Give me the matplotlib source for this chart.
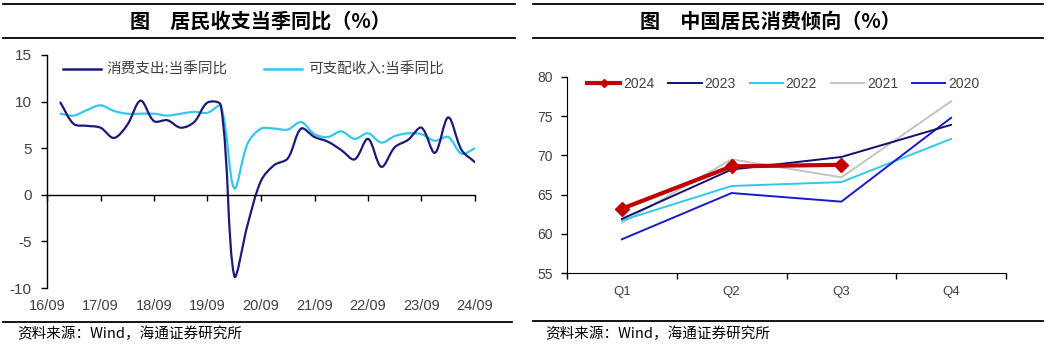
import matplotlib
matplotlib.use("Agg")
import matplotlib.pyplot as plt
from matplotlib.path import Path
from matplotlib.patches import PathPatch
from matplotlib.lines import Line2D
import numpy as np

plt.rcParams['font.family'] = ['Liberation Sans', 'Noto Sans CJK SC', 'DejaVu Sans']
plt.rcParams['axes.unicode_minus'] = False
CJK = ['Noto Sans CJK SC', 'DejaVu Sans']

# ---- left chart data: quarterly yoy, 2016Q4 .. 2024Q3 ----
year_ticks = ["16/09", "17/09", "18/09", "19/09", "20/09", "21/09", "22/09", "23/09", "24/09"]
consume_yoy = [9.9, 7.6, 7.4, 7.2, 6.1, 7.5, 10.1, 7.9, 8.0, 7.2, 7.8, 9.9, 9.6,
               -8.7, -3.2, 1.5, 3.2, 3.9, 7.1, 6.2, 5.7, 4.8, 3.8, 6.0, 3.0,
               5.1, 5.9, 7.2, 4.5, 8.3, 4.8, 3.5]
income_yoy = [8.7, 8.5, 9.1, 9.6, 9.0, 8.7, 8.7, 8.7, 8.5, 8.7, 8.9, 8.8, 9.5,
              0.7, 5.5, 7.1, 7.1, 7.0, 7.8, 6.5, 6.2, 6.8, 6.0, 6.6, 5.6,
              6.3, 6.6, 6.5, 5.8, 6.2, 4.4, 5.0]

# ---- right chart data: propensity to consume ----
quarters = ["Q1", "Q2", "Q3", "Q4"]
y2024 = [63.2, 68.6, 68.8]
y2023 = [61.9, 68.2, 69.8, 73.9]
y2022 = [61.7, 66.1, 66.6, 72.1]
y2021 = [61.4, 69.5, 67.2, 76.9]
y2020 = [59.3, 65.2, 64.1, 74.8]

W, H = 1051, 352
fig = plt.figure(figsize=(W / 100, H / 100), dpi=100)


def box(l, t, r, b):
    return [l / W, 1 - b / H, (r - l) / W, (b - t) / H]


def hrule(x0, x1, y):
    fig.add_artist(Line2D([x0 / W, x1 / W], [1 - y / H, 1 - y / H], color='black', lw=1.3))


def smooth_line(ax, x, y, color, lw, sx=13.4, sy=9.3):
    # smoothed line like excel: bezier through each point, chord length weighted
    pts = np.column_stack([x, y]).astype(float)
    scale = np.array([sx, sy])
    n = len(pts)
    d = [np.hypot(*((pts[i + 1] - pts[i]) * scale)) for i in range(n - 1)]
    verts = [pts[0]]
    codes = [Path.MOVETO]
    for i in range(n - 1):
        if i > 0:
            c1 = pts[i] + (pts[i + 1] - pts[i - 1]) * d[i] / (d[i - 1] + d[i]) / 3.0
        else:
            c1 = pts[i] + (pts[i + 1] - pts[i]) / 3.0
        if i + 2 < n:
            c2 = pts[i + 1] - (pts[i + 2] - pts[i]) * d[i] / (d[i] + d[i + 1]) / 3.0
        else:
            c2 = pts[i + 1] - (pts[i + 1] - pts[i]) / 3.0
        verts += [c1, c2, pts[i + 1]]
        codes += [Path.CURVE4] * 3
    ax.add_patch(PathPatch(Path(verts, codes), facecolor='none', edgecolor=color, lw=lw,
                           capstyle='round', joinstyle='round'))


# rules and titles
hrule(3, 515, 4)
hrule(3, 515, 38)
hrule(533, 1043, 4)
hrule(533, 1043, 38)
hrule(3, 512, 322)
hrule(533, 1043, 321)
fig.text(260 / W, 1 - 21 / H, "图　居民收支当季同比（%）", family=CJK, fontsize=14.5,
         weight='bold', ha='center', va='center')
fig.text(770 / W, 1 - 21 / H, "图　中国居民消费倾向（%）", family=CJK, fontsize=14.5,
         weight='bold', ha='center', va='center')
fig.text(17 / W, 1 - 334 / H, "资料来源：Wind，海通证券研究所", family=CJK, fontsize=10.5,
         ha='left', va='center')
fig.text(545 / W, 1 - 334 / H, "资料来源：Wind，海通证券研究所", family=CJK, fontsize=10.5,
         ha='left', va='center')

tick_col = '#404040'
navy = '#1b1a78'
cyan = '#33c7ec'

# ---------- left chart ----------
ax = fig.add_axes(box(47, 55, 475, 288))
xq = np.arange(len(consume_yoy))
smooth_line(ax, xq, income_yoy, cyan, 1.6)
smooth_line(ax, xq, consume_yoy, navy, 1.6)
ax.set_xlim(-1, 31)
ax.set_ylim(-10, 15)
ax.set_yticks([-10, -5, 0, 5, 10, 15])
ax.spines['top'].set_visible(False)
ax.spines['right'].set_visible(False)
ax.spines['bottom'].set_position(('data', 0))
ax.spines['left'].set_linewidth(1.0)
ax.spines['bottom'].set_linewidth(1.0)
year_pos = np.arange(-1, 32, 4)
ax.set_xticks(year_pos)
ax.set_xticklabels([])
ax.tick_params(axis='x', direction='out', length=4, width=1)
ax.tick_params(axis='y', direction='out', length=4, width=1, labelsize=11,
               labelcolor=tick_col, pad=7)
sec = ax.secondary_xaxis('bottom')
sec.spines['bottom'].set_visible(False)
sec.set_xticks(year_pos)
sec.set_xticklabels(year_ticks)
sec.tick_params(length=0, labelsize=10.5, labelcolor=tick_col, pad=8)
handles = [Line2D([], [], color=navy, lw=1.8), Line2D([], [], color=cyan, lw=1.8)]
leg = ax.legend(handles, ["消费支出:当季同比", "可支配收入:当季同比"], ncol=2,
                loc='center left', bbox_to_anchor=((63 - 47) / 428, 1 - (70 - 55) / 233),
                frameon=False, prop={'family': CJK, 'size': 10.5}, handlelength=2.6,
                handletextpad=0.4, columnspacing=2.5, borderaxespad=0, borderpad=0)
for t in leg.get_texts():
    t.set_color(tick_col)

# ---------- right chart ----------
ax2 = fig.add_axes(box(567, 77, 1006, 273))
xr = np.arange(len(quarters))
ax2.plot(xr, y2021, color='#c3c3c3', lw=1.4, label='2021')
ax2.plot(xr, y2022, color=cyan, lw=1.4, label='2022')
ax2.plot(xr, y2020, color='#1919d2', lw=1.4, label='2020')
ax2.plot(xr, y2023, color='#101070', lw=1.4, label='2023')
ax2.plot(xr[:len(y2024)], y2024, color='#c00000', lw=3.0, marker='D', markersize=7,
         label='2024')
ax2.set_xlim(-0.5, 3.5)
ax2.set_ylim(55, 80)
ax2.set_yticks([55, 60, 65, 70, 75, 80])
ax2.set_xticks(np.arange(-0.5, 3.6, 1))
ax2.set_xticklabels([])
ax2.set_xticks(xr, minor=True)
ax2.set_xticklabels(quarters, minor=True)
ax2.tick_params(axis='x', which='major', direction='out', length=4, width=1)
ax2.tick_params(axis='x', which='minor', length=0, labelsize=9.5, labelcolor=tick_col, pad=9)
ax2.tick_params(axis='y', direction='out', length=4, width=1, labelsize=10,
                labelcolor=tick_col, pad=6)
ax2.spines['top'].set_visible(False)
ax2.spines['right'].set_visible(False)
h2 = [Line2D([], [], color='#c00000', lw=3.0, marker='D', markersize=4),
      Line2D([], [], color='#101070', lw=1.4),
      Line2D([], [], color=cyan, lw=1.4),
      Line2D([], [], color='#c3c3c3', lw=1.4),
      Line2D([], [], color='#1919d2', lw=1.4)]
leg2 = ax2.legend(h2, ['2024', '2023', '2022', '2021', '2020'], ncol=5,
                  loc='center left', bbox_to_anchor=((587 - 567) / 439, 1 - (84 - 77) / 196),
                  frameon=False, prop={'size': 10}, handlelength=2.4, handletextpad=0.2,
                  columnspacing=1.0, borderaxespad=0, borderpad=0)
for t in leg2.get_texts():
    t.set_color(tick_col)

fig.savefig("out.png", dpi=100)
